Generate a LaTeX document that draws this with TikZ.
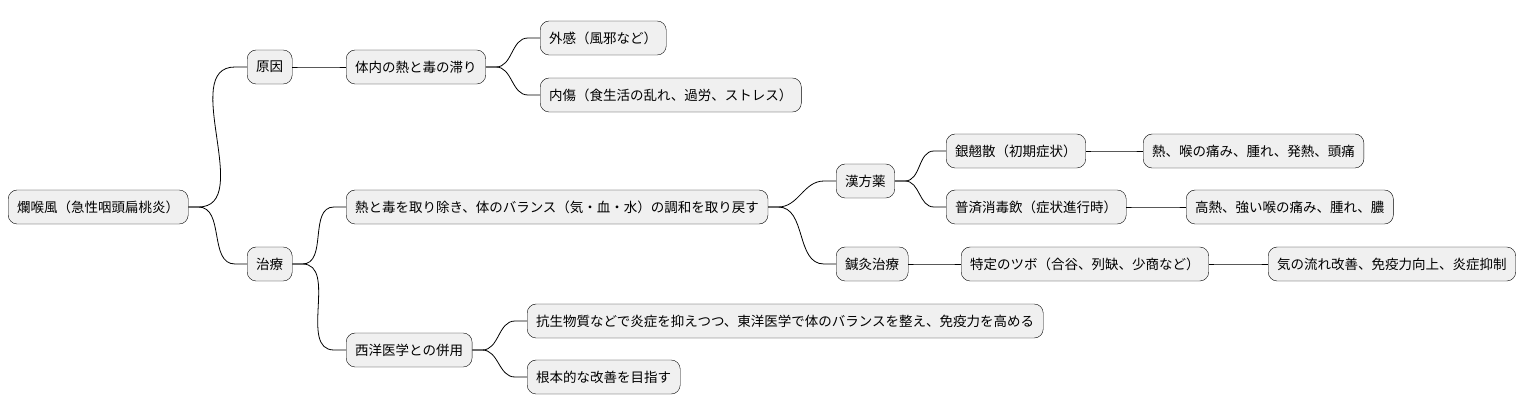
\documentclass[tikz,border=0pt]{standalone}
\usepackage{fontspec}
\setmainfont{Noto Sans CJK JP}
\usetikzlibrary{calc}
\newcommand{\conn}[2]{\draw[edge] (#1.east) -- ++(10,0) to[out=0,in=180] ($(#2.west)+(-12,0)$) -- (#2.west);}
\begin{document}
\begin{tikzpicture}[x=1pt,y=-1pt]
    \tikzset{topic/.style = {draw, rounded corners=9pt, fill=black!6, minimum height=34pt, inner xsep=9pt, anchor=west, font=\fontsize{13.5}{15}\selectfont}}
    \tikzset{edge/.style = {draw=black, line width=0.8pt}}
    \useasboundingbox (0,0) rectangle (1538,415);

    % topics
    \node[topic] (root) at (8,207) {爛喉風（急性咽頭扁桃炎）};
    \node[topic] (cause) at (247,67) {原因};
    \node[topic] (heat) at (346,67) {体内の熱と毒の滞り};
    \node[topic] (ext) at (540,38) {外感（風邪など）};
    \node[topic] (int) at (540,95) {内傷（食生活の乱れ、過労、ストレス）};
    \node[topic] (cure) at (247,264) {治療};
    \node[topic] (balance) at (346,207) {熱と毒を取り除き、体のバランス（気・血・水）の調和を取り戻す};
    \node[topic] (kampo) at (836,181) {漢方薬};
    \node[topic] (gin) at (946,151) {銀翹散（初期症状）};
    \node[topic] (ginsym) at (1143,151) {熱、喉の痛み、腫れ、発熱、頭痛};
    \node[topic] (fusai) at (946,207) {普済消毒飲（症状進行時）};
    \node[topic] (fusym) at (1186,207) {高熱、強い喉の痛み、腫れ、膿};
    \node[topic] (shin) at (836,264) {鍼灸治療};
    \node[topic] (tsubo) at (961,264) {特定のツボ（合谷、列缺、少商など）};
    \node[topic] (ki) at (1268,264) {気の流れ改善、免疫力向上、炎症抑制};
    \node[topic] (west) at (346,350) {西洋医学との併用};
    \node[topic] (anti) at (527,321) {抗生物質などで炎症を抑えつつ、東洋医学で体のバランスを整え、免疫力を高める};
    \node[topic] (root2) at (527,377) {根本的な改善を目指す};

    % edges
    \conn{root}{cause}
    \conn{root}{cure}
    \conn{cause}{heat}
    \conn{heat}{ext}
    \conn{heat}{int}
    \conn{cure}{balance}
    \conn{cure}{west}
    \conn{balance}{kampo}
    \conn{balance}{shin}
    \conn{kampo}{gin}
    \conn{kampo}{fusai}
    \conn{gin}{ginsym}
    \conn{fusai}{fusym}
    \conn{shin}{tsubo}
    \conn{tsubo}{ki}
    \conn{west}{anti}
    \conn{west}{root2}
\end{tikzpicture}
\end{document}
